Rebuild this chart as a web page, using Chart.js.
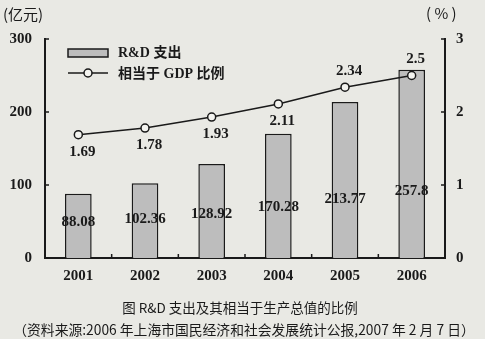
<!DOCTYPE html>
<html>
<head>
<meta charset="utf-8">
<script src="https://cdn.jsdelivr.net/npm/chart.js@4"></script>
<style>
  body { margin: 0; background: #e9e9e4; }
  #wrap { width: 485px; height: 339px; }
</style>
</head>
<body>
<div id="wrap"><canvas id="rdChart" width="485" height="339"></canvas></div>
<script>
// R&D 支出及其相当于生产总值的比例 (上海, 2001-2006)
const years = ['2001', '2002', '2003', '2004', '2005', '2006'];
const rdSpend = [88.08, 102.36, 128.92, 170.28, 213.77, 257.8];
const gdpRatio = [1.69, 1.78, 1.93, 2.11, 2.34, 2.5];
const leftTicks = [0, 100, 200, 300];
const rightTicks = [0, 1, 2, 3];
const ratioAbove = [false, false, false, false, true, true];

const numFont = 'bold 15px "Liberation Serif", "DejaVu Serif", serif';
const ink = '#1a1a1a';

// custom drawing: inward ticks, value labels, legend, captions
const decor = {
    id: 'decor',
    afterDatasetsDraw(chart) {
        const ctx = chart.ctx;
        const area = chart.chartArea;
        const x = chart.scales.x;
        const yL = chart.scales.y;
        const yR = chart.scales.y1;
        ctx.save();
        ctx.strokeStyle = ink;
        ctx.lineWidth = 1.5;

        // inward ticks on the value axes
        leftTicks.forEach(v => {
            const py = yL.getPixelForValue(v);
            ctx.beginPath(); ctx.moveTo(area.left, py); ctx.lineTo(area.left + 4, py); ctx.stroke();
        });
        rightTicks.forEach(v => {
            const py = yR.getPixelForValue(v);
            ctx.beginPath(); ctx.moveTo(area.right, py); ctx.lineTo(area.right - 4, py); ctx.stroke();
        });
        // small upward ticks between years
        for (let i = 1; i < years.length; i++) {
            const px = (x.getPixelForValue(i - 1) + x.getPixelForValue(i)) / 2;
            ctx.beginPath(); ctx.moveTo(px, area.bottom); ctx.lineTo(px, area.bottom - 4); ctx.stroke();
        }

        // bar value labels
        ctx.fillStyle = ink;
        ctx.font = numFont;
        ctx.textAlign = 'center';
        ctx.textBaseline = 'middle';
        const bars = chart.getDatasetMeta(0).data;
        bars.forEach((b, i) => {
            const h = b.base - b.y;
            ctx.fillText(rdSpend[i].toString(), b.x, b.base - (20 + 0.25 * h));
        });

        // ratio labels
        const pts = chart.getDatasetMeta(1).data;
        pts.forEach((p, i) => {
            const dy = ratioAbove[i] ? -16 : 17;
            ctx.fillText(gdpRatio[i].toString(), p.x + 4, p.y + dy);
        });

        // legend
        ctx.fillStyle = '#bdbdbd';
        ctx.fillRect(68, 49, 40, 8);
        ctx.strokeRect(68, 49, 40, 8);
        ctx.beginPath(); ctx.moveTo(68, 73); ctx.lineTo(108, 73); ctx.stroke();
        ctx.beginPath(); ctx.arc(88, 73, 4, 0, Math.PI * 2);
        ctx.fillStyle = '#f4f4f0'; ctx.fill(); ctx.stroke();
        ctx.fillStyle = ink;
        ctx.textAlign = 'left';
        ctx.font = 'bold 14px "Liberation Serif", "Noto Sans CJK SC", serif';
        ctx.fillText('R&D 支出', 118, 53);
        ctx.fillText('相当于 GDP 比例', 118, 74);

        // axis units
        ctx.font = '15px "Noto Sans CJK SC", sans-serif';
        ctx.fillText('(亿元)', 3, 14);
        ctx.fillText('( % )', 426, 13);

        // captions
        ctx.textAlign = 'center';
        ctx.font = '13.5px "Noto Sans CJK SC", sans-serif';
        ctx.fillText('图 R&D 支出及其相当于生产总值的比例', 240, 308);
        ctx.font = '13.8px "Noto Sans CJK SC", sans-serif';
        ctx.fillText('（资料来源:2006 年上海市国民经济和社会发展统计公报,2007 年 2 月 7 日）', 244, 330);
        ctx.restore();
    }
};

const ctx = document.getElementById('rdChart');
new Chart(ctx, {
    data: {
        labels: years,
        datasets: [{
            type: 'bar',
            label: 'R&D 支出',
            data: rdSpend,
            yAxisID: 'y',
            backgroundColor: '#bdbdbd',
            borderColor: ink,
            borderWidth: 1.5,
            barPercentage: 0.4,
            categoryPercentage: 1,
            order: 2
        }, {
            type: 'line',
            label: '相当于 GDP 比例',
            data: gdpRatio,
            yAxisID: 'y1',
            borderColor: ink,
            borderWidth: 1.5,
            pointRadius: 4,
            pointBackgroundColor: '#f4f4f0',
            pointBorderColor: ink,
            pointBorderWidth: 1.5,
            tension: 0,
            order: 1
        }]
    },
    options: {
        responsive: false,
        animation: false,
        layout: { padding: { top: 39, left: 0, right: 0, bottom: 0 } },
        plugins: {
            legend: { display: false },
            tooltip: { enabled: false }
        },
        scales: {
            x: {
                offset: true,
                grid: { display: false, drawTicks: false },
                border: { color: ink, width: 2 },
                ticks: {
                    color: ink,
                    padding: 9,
                    font: { family: '"Liberation Serif", serif', size: 15, weight: 'bold' }
                },
                afterFit: (s) => { s.height = 81; }
            },
            y: {
                position: 'left',
                min: 0, max: 300,
                afterBuildTicks: (s) => { s.ticks = leftTicks.map(v => ({ value: v })); },
                grid: { display: false, drawTicks: false },
                border: { color: ink, width: 2 },
                ticks: {
                    color: ink,
                    padding: 13,
                    font: { family: '"Liberation Serif", serif', size: 15, weight: 'bold' }
                },
                afterFit: (s) => { s.width = 45; }
            },
            y1: {
                position: 'right',
                min: 0, max: 3,
                afterBuildTicks: (s) => { s.ticks = rightTicks.map(v => ({ value: v })); },
                grid: { display: false, drawTicks: false },
                border: { color: ink, width: 2 },
                ticks: {
                    color: ink,
                    padding: 11,
                    font: { family: '"Liberation Serif", serif', size: 15, weight: 'bold' }
                },
                afterFit: (s) => { s.width = 40; }
            }
        }
    },
    plugins: [decor]
});
</script>
</body>
</html>
